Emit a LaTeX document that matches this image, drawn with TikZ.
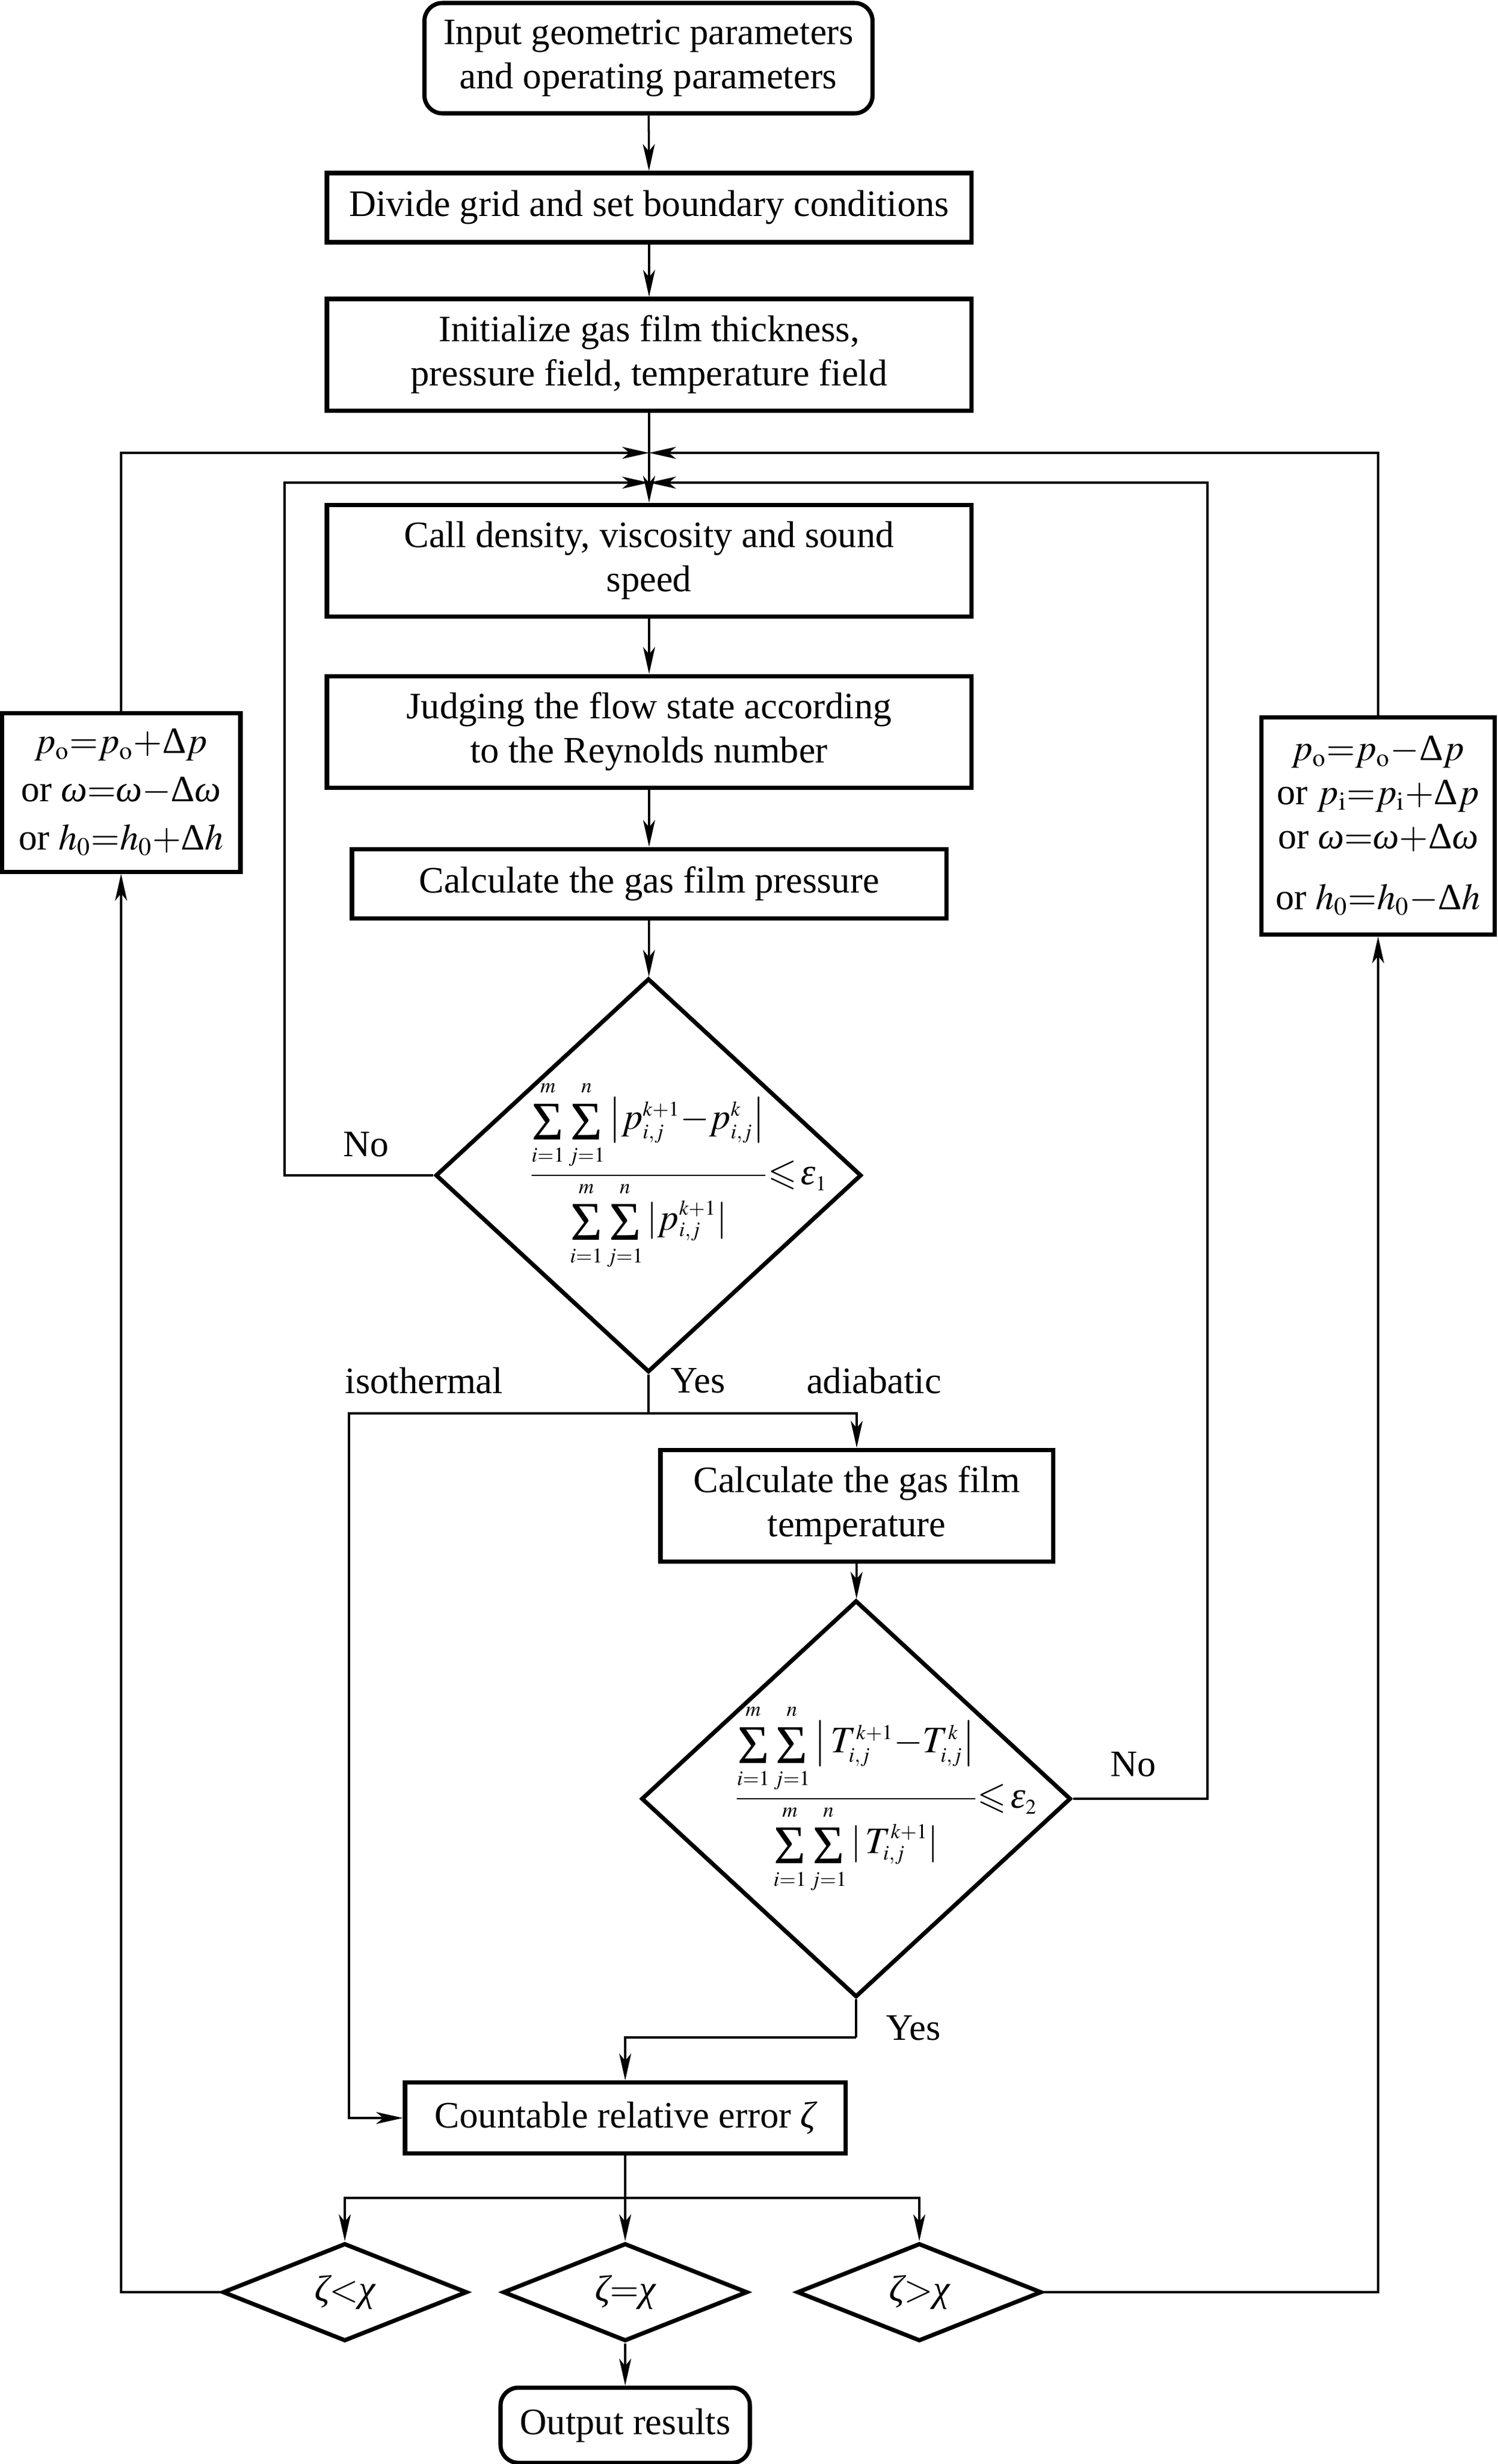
\documentclass[tikz,border=0pt]{standalone}
\usepackage{mathptmx}
\usepackage{amsmath,amssymb}
\usepackage[no-math]{fontspec}
\setmainfont{Liberation Serif}
\usepackage{tikz}
\usetikzlibrary{arrows.meta, positioning, shapes.geometric, calc}

\DeclareMathSizes{17.8}{17.8}{10}{8}
\DeclareMathSizes{17.7}{17.7}{12}{9}

% Times-like symbols taken from the text font
\newcommand{\bigsum}{\mathop{\vcenter{\hbox{\fontsize{26}{26}\selectfont\rule{0pt}{0.72em}Σ}}}\limits}
\newcommand{\om}{\textit{ω}}
\newcommand{\ze}{\textit{ζ}}
\newcommand{\ch}{\textit{χ}}
\newcommand{\eps}{\textit{ε}}
\newcommand{\Dl}{\textup{Δ}}

\tikzset{
  box/.style={draw, line width=2pt, align=center, inner sep=4pt},
  startstop/.style={box, rounded corners=0.3cm},
  update/.style={box, font=\fontsize{17.7}{21}\selectfont},
  decision/.style={diamond, draw, line width=2pt, inner sep=-1.4cm, align=center},
  conn/.style={line width=1pt},
  flow/.style={conn, -{Stealth[length=4.5mm, width=2mm, inset=1.2mm]}},
  tag/.style={inner sep=0pt}
}

\begin{document}
\begin{tikzpicture}[font=\fontsize{17.8}{21}\selectfont]
        \useasboundingbox (0,0) rectangle (25.11,-41.30);

        % Main column
        \node[startstop, minimum width=7.51cm, minimum height=1.85cm] (input) at (10.87,-0.975)
            {Input geometric parameters\\and operating parameters};
        \node[box, minimum width=10.8cm, minimum height=1.16cm] (divide) at (10.88,-3.48)
            {Divide grid and set boundary conditions};
        \node[box, minimum width=10.8cm, minimum height=1.87cm] (init) at (10.88,-5.945)
            {Initialize gas film thickness,\\pressure field, temperature field};
        \node[box, minimum width=10.8cm, minimum height=1.87cm] (call) at (10.88,-9.395)
            {Call density, viscosity and sound\\speed};
        \node[box, minimum width=10.8cm, minimum height=1.87cm] (judge) at (10.88,-12.265)
            {Judging the flow state according\\to the Reynolds number};
        \node[box, minimum width=9.96cm, minimum height=1.16cm] (press) at (10.88,-14.81)
            {Calculate the gas film pressure};

        % Pressure convergence check
        \node[decision, minimum width=7.14cm, minimum height=6.6cm] (conv1) at (10.87,-19.7)
            {$\dfrac{\bigsum_{i=1}^{m}\bigsum_{j=1}^{n}\left|p_{i,j}^{k+1}{-}p_{i,j}^{k}\right|}
              {\bigsum_{i=1}^{m}\bigsum_{j=1}^{n}\left|p_{i,j}^{k+1}\right|}\rlap{$\leqslant\!\eps_1$}$};

        % Temperature branch
        \node[box, minimum width=6.58cm, minimum height=1.87cm] (temp) at (14.36,-25.235)
            {Calculate the gas film\\temperature};
        \node[decision, minimum width=7.2cm, minimum height=6.65cm] (conv2) at (14.35,-30.15)
            {$\dfrac{\bigsum_{i=1}^{m}\bigsum_{j=1}^{n}\left|\,T_{i,j}^{k+1}{-}T_{i,j}^{k}\right|}
              {\bigsum_{i=1}^{m}\bigsum_{j=1}^{n}\left|\,T_{i,j}^{k+1}\right|}\rlap{$\leqslant\!\eps_2$}$};

        % Error and comparison
        \node[box, minimum width=7.38cm, minimum height=1.19cm] (error) at (10.48,-35.5)
            {Countable relative error $\ze$};
        \node[decision, minimum width=4.1cm, minimum height=1.64cm] (less) at (5.78,-38.42) {$\ze{<}\ch$};
        \node[decision, minimum width=4.1cm, minimum height=1.64cm] (equal) at (10.48,-38.42) {$\ze{=}\ch$};
        \node[decision, minimum width=4.1cm, minimum height=1.64cm] (greater) at (15.41,-38.42) {$\ze{>}\ch$};
        \node[startstop, minimum width=4.18cm, minimum height=1.26cm] (output) at (10.48,-40.65)
            {Output results};

        % Parameter update boxes
        \node[update, minimum width=4.0cm, minimum height=2.66cm] (decrease) at (2.03,-13.28)
            {$p_{\mathrm{o}}{=}p_{\mathrm{o}}{+}\Dl p$\\[2pt]
             or $\om{=}\om{-}\Dl\om$\\[2pt]
             or $h_0{=}h_0{+}\Dl h$};
        \node[update, minimum width=3.91cm, minimum height=3.64cm] (increase) at (23.1,-13.84)
            {$p_{\mathrm{o}}{=}p_{\mathrm{o}}{-}\Dl p$\\
             or $p_{\mathrm{i}}{=}p_{\mathrm{i}}{+}\Dl p$\\
             or $\om{=}\om{+}\Dl\om$\\[8pt]
             or $h_0{=}h_0{-}\Dl h$};

        % Merge points
        \coordinate (outer) at (10.88,-7.59);
        \coordinate (inner) at (10.88,-8.09);
        \coordinate (split) at (10.87,-23.69);
        \coordinate (join) at (14.35,-34.15);
        \coordinate (fork) at (10.48,-36.84);

        % Main flow
        \draw[flow] (input) -- (divide);
        \draw[flow] (divide) -- (init);
        \draw[flow] (init) -- (call);
        \draw[flow] (call) -- (judge);
        \draw[flow] (judge) -- (press);
        \draw[flow] (press) -- (conv1);
        \draw[conn] (conv1.south) -- (split);
        \draw[flow] (split) -| (temp.north);
        \draw[flow] (split) -- (5.85,-23.69) |- (error.west);
        \draw[flow] (temp) -- (conv2);
        \draw[conn] (conv2.south) -- (join);
        \draw[flow] (join) -| (error.north);
        \draw[conn] (error.south) -- (fork);
        \draw[flow] (fork) -| (less.north);
        \draw[flow] (fork) -- (equal.north);
        \draw[flow] (fork) -| (greater.north);
        \draw[flow] (equal) -- (output);

        % Inner loops
        \draw[flow] (conv1.west) -- (4.77,-19.7) |- (inner);
        \draw[flow] (conv2.east) -- (20.24,-30.15) |- (inner);

        % Outer loops
        \draw[flow] (less.west) -| (decrease.south);
        \draw[flow] (decrease.north) |- (outer);
        \draw[flow] (greater.east) -| (increase.south);
        \draw[flow] (increase.north) |- (outer);

        % Labels
        \node[tag] (no1) at (6.14,-19.18) {No};
        \node[tag] (no2) at (19.0,-29.57) {No};
        \node[tag] (yes1) at (11.7,-23.14) {Yes};
        \node[tag] (yes2) at (15.31,-33.99) {Yes};
        \node[tag] (iso) at (7.11,-23.14) {isothermal};
        \node[tag] (adia) at (14.65,-23.14) {adiabatic};

    \end{tikzpicture}
\end{document}
